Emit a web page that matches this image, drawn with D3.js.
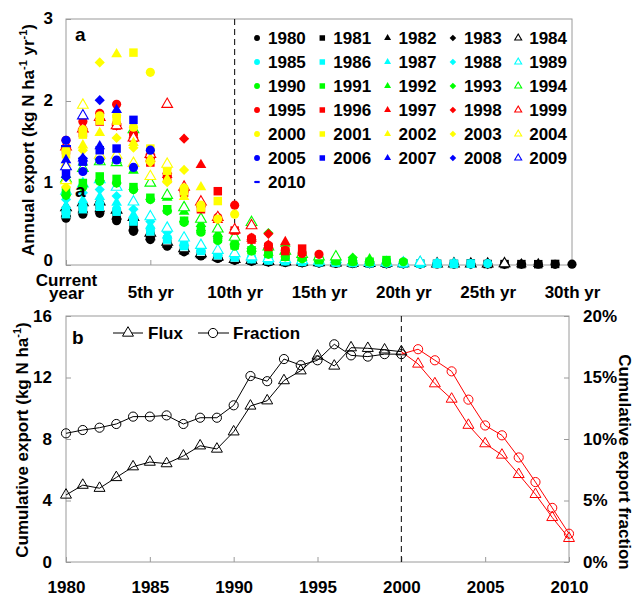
<!DOCTYPE html>
<html>
<head>
<meta charset="utf-8">
<script src="https://d3js.org/d3.v7.min.js"></script>
<style>
  body { margin: 0; background: #fff; }
  svg text { font-family: "Liberation Sans", Arial, sans-serif; font-weight: bold; fill: #000; }
</style>
</head>
<body>
<svg width="634" height="596"></svg>
<script>
// ---- panel a: annual export for each application year, by years since application
const appYears = [1980, 1981, 1982, 1983, 1984, 1985, 1986, 1987, 1988, 1989, 1990,
  1991, 1992, 1993, 1994, 1995, 1996, 1997, 1998, 1999, 2000, 2001, 2002, 2003, 2004,
  2005, 2006, 2007, 2008, 2009, 2010];

const exp1980 = [0.57, 0.62, 0.63, 0.54, 0.41, 0.31, 0.23, 0.16, 0.11, 0.08, 0.057, 0.046, 0.037, 0.031, 0.027, 0.024, 0.021, 0.019, 0.017, 0.015, 0.014, 0.013, 0.012, 0.011, 0.011, 0.016, 0.010, 0.009, 0.009, 0.008, 0.010];
const exp1981 = [0.66, 0.71, 0.73, 0.63, 0.48, 0.36, 0.26, 0.18, 0.13, 0.092, 0.066, 0.053, 0.043, 0.036, 0.032, 0.028, 0.024, 0.022, 0.020, 0.018, 0.017, 0.015, 0.014, 0.013, 0.020, 0.012, 0.011, 0.011, 0.010, 0.013];
const exp1982 = [0.62, 0.67, 0.68, 0.59, 0.45, 0.34, 0.25, 0.17, 0.12, 0.087, 0.062, 0.050, 0.040, 0.034, 0.030, 0.026, 0.023, 0.020, 0.019, 0.017, 0.016, 0.014, 0.013, 0.020, 0.012, 0.011, 0.011, 0.010, 0.013];
const exp1983 = [0.60, 0.65, 0.66, 0.57, 0.43, 0.33, 0.24, 0.17, 0.12, 0.084, 0.060, 0.048, 0.039, 0.033, 0.029, 0.025, 0.022, 0.020, 0.018, 0.016, 0.015, 0.014, 0.020, 0.012, 0.011, 0.011, 0.010, 0.013];
const exp1984 = [0.70, 0.76, 0.77, 0.67, 0.58, 0.39, 0.28, 0.20, 0.14, 0.098, 0.070, 0.056, 0.046, 0.039, 0.034, 0.029, 0.026, 0.023, 0.021, 0.019, 0.018, 0.026, 0.015, 0.014, 0.013, 0.013, 0.017];
const exp1985 = [0.65, 0.72, 0.75, 0.68, 0.55, 0.43, 0.33, 0.24, 0.18, 0.13, 0.10, 0.075, 0.060, 0.050, 0.040, 0.035, 0.030, 0.026, 0.023, 0.021, 0.030, 0.017, 0.016, 0.014, 0.013, 0.017];
const exp1986 = [0.62, 0.68, 0.71, 0.65, 0.53, 0.41, 0.31, 0.23, 0.17, 0.12, 0.093, 0.071, 0.056, 0.047, 0.038, 0.033, 0.029, 0.025, 0.022, 0.032, 0.018, 0.016, 0.015, 0.014, 0.017];
const exp1987 = [0.72, 0.79, 0.83, 0.76, 0.61, 0.48, 0.36, 0.27, 0.19, 0.14, 0.11, 0.083, 0.065, 0.054, 0.045, 0.038, 0.033, 0.029, 0.041, 0.023, 0.021, 0.019, 0.017, 0.022];
const exp1988 = [0.80, 0.88, 0.92, 0.84, 0.68, 0.53, 0.40, 0.30, 0.22, 0.16, 0.12, 0.092, 0.072, 0.060, 0.050, 0.042, 0.037, 0.051, 0.029, 0.026, 0.023, 0.021, 0.027];
const exp1989 = [0.90, 0.99, 1.04, 0.95, 0.77, 0.59, 0.45, 0.33, 0.24, 0.18, 0.14, 0.10, 0.081, 0.068, 0.056, 0.048, 0.066, 0.036, 0.032, 0.029, 0.026, 0.033];
const exp1990 = [0.85, 0.95, 1.02, 1.00, 0.92, 0.80, 0.66, 0.52, 0.40, 0.30, 0.23, 0.17, 0.13, 0.10, 0.075, 0.080, 0.050, 0.040, 0.035, 0.030, 0.040];
const exp1991 = [0.90, 1.00, 1.08, 1.05, 0.95, 0.82, 0.68, 0.54, 0.42, 0.32, 0.24, 0.18, 0.14, 0.10, 0.12, 0.060, 0.050, 0.045, 0.040, 0.060];
const exp1992 = [1.10, 1.25, 1.32, 1.28, 1.15, 1.00, 0.82, 0.65, 0.50, 0.38, 0.28, 0.20, 0.15, 0.26, 0.090, 0.070, 0.060, 0.050, 0.070];
const exp1993 = [0.85, 0.96, 1.03, 1.00, 0.92, 0.80, 0.66, 0.53, 0.42, 0.33, 0.26, 0.20, 0.39, 0.13, 0.10, 0.080, 0.065, 0.090];
const exp1994 = [1.05, 1.18, 1.26, 1.25, 1.65, 1.00, 0.85, 0.70, 0.56, 0.44, 0.34, 0.52, 0.22, 0.17, 0.13, 0.10, 0.10];
const exp1995 = [1.52, 1.75, 1.85, 1.96, 1.60, 1.30, 1.10, 0.90, 0.72, 0.58, 0.73, 0.33, 0.24, 0.18, 0.14, 0.13];
const exp1996 = [1.40, 1.61, 1.75, 1.70, 1.55, 1.25, 1.05, 0.88, 0.68, 0.90, 0.42, 0.31, 0.22, 0.17, 0.20];
const exp1997 = [1.47, 1.69, 1.80, 1.75, 1.55, 1.30, 1.10, 0.95, 1.22, 0.55, 0.42, 0.32, 0.24, 0.28];
const exp1998 = [1.42, 1.63, 1.78, 1.70, 1.55, 1.35, 1.12, 1.54, 0.72, 0.56, 0.43, 0.31, 0.38];
const exp1999 = [1.44, 1.66, 1.80, 1.70, 1.55, 1.35, 1.96, 0.95, 0.77, 0.58, 0.43, 0.48];
const exp2000 = [1.40, 1.65, 1.82, 1.82, 1.68, 2.35, 1.19, 0.94, 0.73, 0.56, 0.62];
const exp2001 = [1.35, 1.59, 1.76, 1.76, 2.59, 1.42, 1.15, 0.90, 0.70, 0.78];
const exp2002 = [1.24, 1.46, 1.61, 2.57, 1.49, 1.30, 1.05, 0.83, 0.95];
const exp2003 = [0.95, 1.40, 2.47, 1.55, 1.43, 1.25, 1.01, 1.16];
const exp2004 = [1.03, 1.95, 1.34, 1.34, 1.24, 1.08, 1.23];
const exp2005 = [1.52, 1.14, 1.28, 1.28, 1.19, 1.40];
const exp2006 = [1.12, 1.26, 1.40, 1.42, 1.77];
const exp2007 = [1.28, 1.30, 1.45, 1.89];
const exp2008 = [1.07, 1.30, 2.01];
const exp2009 = [1.20, 1.82];
const exp2010 = [1.45];

const annualExport = [exp1980, exp1981, exp1982, exp1983, exp1984, exp1985, exp1986,
  exp1987, exp1988, exp1989, exp1990, exp1991, exp1992, exp1993, exp1994, exp1995,
  exp1996, exp1997, exp1998, exp1999, exp2000, exp2001, exp2002, exp2003, exp2004,
  exp2005, exp2006, exp2007, exp2008, exp2009, exp2010];

const xTicksA = [0, 5, 10, 15, 20, 25, 30];
const xTickLabelsA = ["Current year", "5th yr", "10th yr", "15th yr", "20th yr", "25th yr", "30th yr"];
const yTicksA = [0, 1, 2, 3];

// ---- panel b: cumulative export by calendar year
const calYears = [1980, 1981, 1982, 1983, 1984, 1985, 1986, 1987, 1988, 1989, 1990,
  1991, 1992, 1993, 1994, 1995, 1996, 1997, 1998, 1999, 2000, 2001, 2002, 2003, 2004,
  2005, 2006, 2007, 2008, 2009, 2010];
const flux = [4.36, 5.0, 4.8, 5.5, 6.2, 6.5, 6.4, 6.9, 7.56, 7.35, 8.47, 10.15, 10.49,
  11.8, 12.44, 13.4, 12.75, 13.94, 13.9, 13.8, 13.68, 12.88, 11.6, 10.6, 8.9, 7.7, 6.96,
  5.7, 4.4, 2.9, 1.54];
const fraction = [10.46, 10.73, 10.92, 11.22, 11.82, 11.82, 11.92, 11.22, 11.73, 11.73,
  12.74, 15.12, 14.7, 16.5, 16.0, 16.4, 17.7, 16.8, 16.7, 16.9, 16.9, 17.3, 16.4, 15.5,
  13.2, 11.1, 10.3, 8.5, 6.5, 4.4, 2.3];
const xTicksB = [1980, 1985, 1990, 1995, 2000, 2005, 2010];
const yTicksB = [0, 4, 8, 12, 16];
const yTicksBRight = [0, 5, 10, 15, 20];

const groupColors = ["#000000", "#00ffff", "#00ff00", "#ff0000", "#ffff00", "#0000ff"];
const axisGray = "#9a9a9a";

const svg = d3.select("svg");

// ================= panel a =================
const xa = d3.scaleLinear().domain([0, 30]).range([66, 572]);
const ya = d3.scaleLinear().domain([0, 3]).range([265, 19]);

svg.append("rect")
  .attr("x", xa(0)).attr("y", ya(3))
  .attr("width", xa(30) - xa(0)).attr("height", ya(0) - ya(3))
  .attr("fill", "none").attr("stroke", axisGray).attr("stroke-width", 1);

const axA_y = svg.append("g")
  .attr("transform", `translate(${xa(0)},0)`)
  .call(d3.axisLeft(ya).tickValues(yTicksA).tickSizeInner(-5).tickSizeOuter(0)
    .tickPadding(13).tickFormat(d3.format("d")));
axA_y.selectAll(".tick text").attr("dy", d => d === 0 ? "0.05em" : "0.25em");

const axA_x = svg.append("g")
  .attr("transform", `translate(0,${ya(0)})`)
  .call(d3.axisBottom(xa).tickValues(xTicksA).tickSizeInner(-5).tickSizeOuter(0)
    .tickFormat((d, i) => xTickLabelsA[i]));

axA_x.selectAll(".tick text").each(function (d, i) {
  const t = d3.select(this);
  t.attr("y", 0).attr("dy", null);
  if (i === 0) {
    t.text(null);
    t.append("tspan").attr("x", 0).attr("y", 21).text("Current");
    t.append("tspan").attr("x", 0).attr("y", 33.5).text("year");
  } else {
    t.attr("y", 33);
  }
});

// dashed line at 10th yr
svg.append("line")
  .attr("x1", xa(10)).attr("x2", xa(10))
  .attr("y1", ya(3)).attr("y2", ya(0))
  .attr("stroke", "#000").attr("stroke-width", 1).attr("stroke-dasharray", "6,4");

function shapeFor(i) {
  return ["circle", "square", "triangle", "diamond", "opentri"][i % 5];
}
function colorFor(i) {
  return groupColors[Math.min(5, Math.floor(i / 5))];
}
function markerPath(shape, scale) {
  if (shape === "circle") return d3.symbol().type(d3.symbolCircle).size(66 * scale)();
  if (shape === "square") return d3.symbol().type(d3.symbolSquare).size(72 * scale)();
  if (shape === "diamond") return d3.symbol().type(d3.symbolSquare).size(52 * scale)();
  return d3.symbol().type(d3.symbolTriangle).size(50 * scale)();
}

function drawMarker(g, i, x, y, scale) {
  const year = appYears[i];
  const col = colorFor(i);
  if (year === 2010) {
    g.append("line")
      .attr("x1", x - 4 * scale - 1).attr("x2", x + 4 * scale + 1)
      .attr("y1", y).attr("y2", y)
      .attr("stroke", col).attr("stroke-width", 2.2);
    return;
  }
  const shape = shapeFor(i);
  const p = g.append("path")
    .attr("d", markerPath(shape, scale))
    .attr("transform", `translate(${x},${y})` + (shape === "diamond" ? " rotate(45)" : ""));
  if (shape === "opentri") {
    p.attr("fill", "#fff").attr("stroke", col).attr("stroke-width", 1.1);
  } else {
    p.attr("fill", col);
  }
}

const pts = svg.append("g");
annualExport.forEach((vals, i) => {
  vals.forEach((v, k) => drawMarker(pts, i, xa(k), ya(v), 1));
});

// legend for panel a
const leg = svg.append("g");
appYears.forEach((yr, i) => {
  const r = Math.floor(i / 5), c = i % 5;
  const lx = 257 + c * 65.3, ly = 38 + r * 24;
  drawMarker(leg, i, lx, ly, 0.42);
  leg.append("text").attr("x", lx + 11).attr("y", ly).attr("dy", "0.36em")
    .style("font-size", "17px").text(yr);
});

svg.append("text").attr("x", 75).attr("y", 41).style("font-size", "19px").text("a");
svg.append("text").attr("x", 75).attr("y", 197).style("font-size", "19px").text("a");

const titleA = svg.append("text")
  .attr("transform", "translate(34,140) rotate(-90)")
  .attr("text-anchor", "middle").style("font-size", "17px");
titleA.append("tspan").text("Annual export (kg N ha");
titleA.append("tspan").attr("dy", -7).style("font-size", "11px").text("-1");
titleA.append("tspan").attr("dy", 7).text(" yr");
titleA.append("tspan").attr("dy", -7).style("font-size", "11px").text("-1");
titleA.append("tspan").attr("dy", 7).text(")");

// ================= panel b =================
const xb = d3.scaleLinear().domain([1980, 2010]).range([66, 569]);
const yb = d3.scaleLinear().domain([0, 16]).range([562, 316]);
const yb2 = d3.scaleLinear().domain([0, 20]).range([562, 316]);

svg.append("rect")
  .attr("x", xb(1980)).attr("y", yb(16))
  .attr("width", xb(2010) - xb(1980)).attr("height", yb(0) - yb(16))
  .attr("fill", "none").attr("stroke", axisGray).attr("stroke-width", 1);

const axB_y = svg.append("g")
  .attr("transform", `translate(${xb(1980)},0)`)
  .call(d3.axisLeft(yb).tickValues(yTicksB).tickSizeInner(-5).tickSizeOuter(0).tickPadding(14));
const axB_y2 = svg.append("g")
  .attr("transform", `translate(${xb(2010)},0)`)
  .call(d3.axisRight(yb2).tickValues(yTicksBRight).tickSizeInner(-5).tickSizeOuter(0)
    .tickPadding(14).tickFormat(d => d + "%"));
const axB_x = svg.append("g")
  .attr("transform", `translate(0,${yb(0)})`)
  .call(d3.axisBottom(xb).tickValues(xTicksB).tickSizeInner(-5).tickSizeOuter(0)
    .tickFormat(d3.format("d")));
axB_x.selectAll(".tick text").attr("y", 31).attr("dy", null);

[axA_y, axA_x, axB_y, axB_y2, axB_x].forEach(ax => {
  ax.select(".domain").remove();
  ax.selectAll(".tick line").attr("stroke", axisGray);
  ax.selectAll(".tick text").style("font-size", "17px")
    .style("font-family", "'Liberation Sans', Arial, sans-serif").style("font-weight", "bold")
    .attr("fill", "#000");
});

svg.append("line")
  .attr("x1", xb(2000)).attr("x2", xb(2000))
  .attr("y1", yb(16)).attr("y2", yb(0))
  .attr("stroke", "#000").attr("stroke-width", 1).attr("stroke-dasharray", "6,4");

const idx2000 = calYears.indexOf(2000);
const fluxPts = calYears.map((y, i) => ({ x: xb(y), y: yb(flux[i]), i }));
const fracPts = calYears.map((y, i) => ({ x: xb(y), y: yb2(fraction[i]), i }));
const line = d3.line().x(d => d.x).y(d => d.y);

const triPath = d3.symbol().type(d3.symbolTriangle).size(52)();
const circPath = d3.symbol().type(d3.symbolCircle).size(66)();

function drawSeries(points, path) {
  const black = points.filter(p => p.i <= idx2000);
  const red = points.filter(p => p.i >= idx2000);
  svg.append("path").attr("d", line(black)).attr("fill", "none").attr("stroke", "#000").attr("stroke-width", 1);
  svg.append("path").attr("d", line(red)).attr("fill", "none").attr("stroke", "#ff0000").attr("stroke-width", 1);
  svg.append("g").selectAll("path").data(points).join("path")
    .attr("d", path)
    .attr("transform", d => `translate(${d.x},${d.y})`)
    .attr("fill", "none")
    .attr("stroke", d => d.i <= idx2000 ? "#000" : "#ff0000")
    .attr("stroke-width", 1);
}
drawSeries(fluxPts, triPath);
drawSeries(fracPts, circPath);

// legend b
svg.append("text").attr("x", 72).attr("y", 344).style("font-size", "19px").text("b");
svg.append("line").attr("x1", 113).attr("x2", 143).attr("y1", 333).attr("y2", 333).attr("stroke", "#000");
svg.append("path").attr("d", triPath).attr("transform", "translate(128,333)").attr("fill", "#fff").attr("stroke", "#000");
svg.append("text").attr("x", 148).attr("y", 339).style("font-size", "17px").text("Flux");
svg.append("line").attr("x1", 198).attr("x2", 229).attr("y1", 333).attr("y2", 333).attr("stroke", "#000");
svg.append("path").attr("d", circPath).attr("transform", "translate(213,333)").attr("fill", "#fff").attr("stroke", "#000");
svg.append("text").attr("x", 233).attr("y", 339).style("font-size", "17px").text("Fraction");

const titleB = svg.append("text")
  .attr("transform", "translate(28,440) rotate(-90)")
  .attr("text-anchor", "middle").style("font-size", "17px");
titleB.append("tspan").text("Cumulative export (kg N ha");
titleB.append("tspan").attr("dy", -7).style("font-size", "11px").text("-1");
titleB.append("tspan").attr("dy", 7).text(")");

svg.append("text")
  .attr("transform", "translate(619,462) rotate(90)")
  .attr("text-anchor", "middle").style("font-size", "17px")
  .text("Cumulative export fraction");
</script>
</body>
</html>
